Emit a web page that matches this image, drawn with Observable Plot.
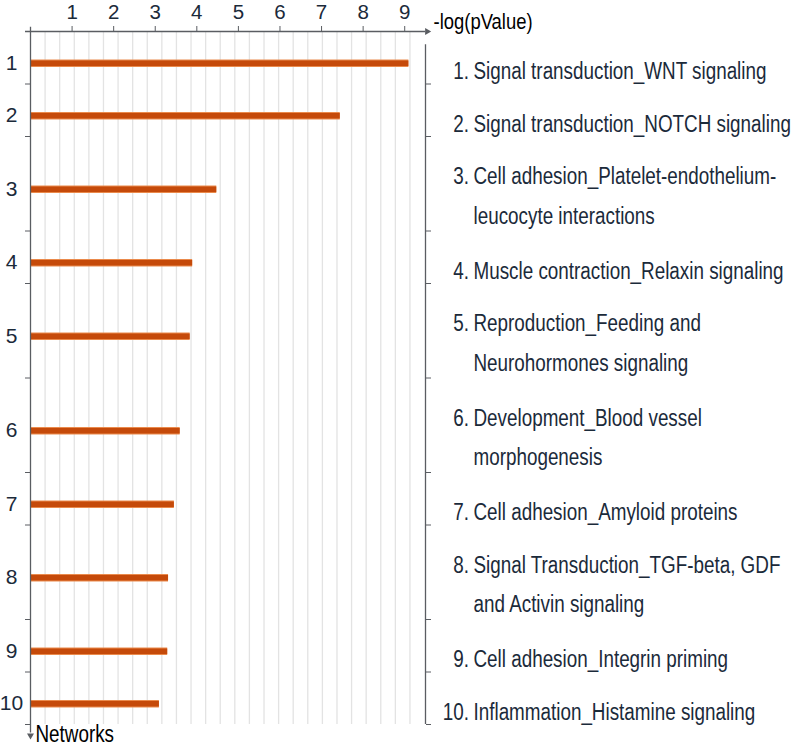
<!DOCTYPE html>
<html>
<head>
<meta charset="utf-8">
<script src="https://cdn.jsdelivr.net/npm/d3@7"></script>
<script src="https://cdn.jsdelivr.net/npm/@observablehq/plot@0.6"></script>
<style>
  html, body { margin: 0; padding: 0; background: #ffffff; }
</style>
</head>
<body>
<div id="chart"></div>
<script>
// ---- data ----
const networks = [1, 2, 3, 4, 5, 6, 7, 8, 9, 10];
const values = [9.1, 7.45, 4.48, 3.9, 3.84, 3.6, 3.46, 3.32, 3.3, 3.1];
const labels = [
  "Signal transduction_WNT signaling",
  "Signal transduction_NOTCH signaling",
  "Cell adhesion_Platelet-endothelium-\nleucocyte interactions",
  "Muscle contraction_Relaxin signaling",
  "Reproduction_Feeding and\nNeurohormones signaling",
  "Development_Blood vessel\nmorphogenesis",
  "Cell adhesion_Amyloid proteins",
  "Signal Transduction_TGF-beta, GDF\nand Activin signaling",
  "Cell adhesion_Integrin priming",
  "Inflammation_Histamine signaling"
];
const xTicks = [1, 2, 3, 4, 5, 6, 7, 8, 9];
const xTitle = "-log(pValue)";
const yTitle = "Networks";

// ---- layout helpers ----
const FONT = '"Liberation Sans", Arial, Helvetica, sans-serif';
const NAVY = "#1b2a3a";
const AXIS = "#5a5d62";
const GRID = "#e3e3e3";
const BAR = "#c54a0a";
const BAR_EDGE = "#ea8a4c";
const CONDENSE = 0.82;
const gridValues = d3.range(1, 27).map(i => i * 0.351);

let cum = 0;
const rows = networks.map((n, i) => {
  const nLines = labels[i].split("\n").length;
  const size = nLines > 1 ? 1.8 : 1;
  const r = {network: n, num: n + ".", value: values[i], label: labels[i], start: cum, mid: cum + size / 2, end: cum + size};
  cum += size;
  return r;
});
const total = cum;
const boundaries = rows.map(r => r.end);

const fsLabel = 23;
const lh = 39.7 / fsLabel;
const labelDy = 47.6 - 0.71 * lh * fsLabel;

const plot = Plot.plot({
  width: 797,
  height: 745,
  marginLeft: 30,
  marginRight: 372,
  marginTop: 31,
  marginBottom: 21,
  style: {fontFamily: FONT, background: "#ffffff", color: NAVY},
  x: {domain: [0, 9.5], label: null},
  y: {domain: [0, total], reverse: true, label: null},
  marks: [
    // grid
    Plot.ruleX(gridValues, {x: d => d, y1: 0, y2: total, stroke: GRID, strokeWidth: 1.3}),
    // bars
    Plot.ruleY(rows, {y: "mid", x1: 0, x2: "value", stroke: BAR_EDGE, strokeWidth: 7.5, dy: 5.5}),
    Plot.ruleY(rows, {y: "mid", x1: 0, x2: "value", stroke: BAR, strokeWidth: 5.6, dy: 5.5}),
    // axis lines
    Plot.ruleY([0], {x1: -0.12, x2: 9.5, stroke: AXIS, strokeWidth: 1.3}),
    Plot.ruleX([0], {y1: -0.08, y2: 13.36, stroke: AXIS, strokeWidth: 1.3}),
    Plot.ruleX([9.5], {y1: 0.25, y2: total, stroke: AXIS, strokeWidth: 1.3}),
    Plot.dot([{x: 9.54, y: 0}], {x: "x", y: "y", symbol: "triangle", r: 2.6, rotate: 90, fill: AXIS, stroke: null}),
    Plot.dot([{x: 0, y: 13.41}], {x: "x", y: "y", symbol: "triangle", r: 2.6, rotate: 180, fill: AXIS, stroke: null}),
    // top axis ticks & labels
    Plot.axisX({anchor: "top", ticks: xTicks, tickSize: 6, tickPadding: 7, fontSize: 20.5, stroke: AXIS, fill: NAVY, label: null, tickFormat: d => String(d)}),
    // boundary ticks left & right
    Plot.axisY({anchor: "left", ticks: boundaries, tickSize: 5, tickFormat: () => "", stroke: AXIS, label: null}),
    Plot.axisY({anchor: "right", ticks: boundaries, tickSize: 5, tickFormat: () => "", stroke: AXIS, label: null}),
    // left network numbers
    Plot.text(rows, {x: 0, y: "mid", text: d => String(d.network), dx: -19, dy: 5.5, textAnchor: "middle", fontSize: 21, fill: NAVY}),
    // right labels
    Plot.text(rows, {x: 9.5, y: "start", text: "num", dx: 43.5, dy: labelDy, textAnchor: "end", lineAnchor: "top", lineHeight: lh, fontSize: fsLabel, fill: NAVY}),
    Plot.text(rows, {x: 9.5, y: "start", text: "label", dx: 48, dy: labelDy, textAnchor: "start", lineAnchor: "top", lineHeight: lh, fontSize: fsLabel, fill: NAVY}),
    // axis titles
    Plot.text([{x: 9.5, y: 0, t: xTitle}], {x: "x", y: "y", text: "t", dx: 8, dy: -3, textAnchor: "start", lineAnchor: "bottom", fontSize: 22.5, fill: "#000000"}),
    Plot.text([{x: 0, y: total, t: yTitle}], {x: "x", y: "y", text: "t", dx: 5, dy: 17, textAnchor: "start", lineAnchor: "bottom", fontSize: 23, fill: "#000000"})
  ]
});

// condense the label-style texts (all text marks except the left network numbers)
const textGroups = plot.querySelectorAll('g[aria-label="text"]');
textGroups.forEach((g, gi) => {
  if (gi === 0) return;
  g.querySelectorAll("text").forEach(t => {
    const tr = t.getAttribute("transform") || "";
    t.setAttribute("transform", tr + ` scale(${CONDENSE},1)`);
  });
});

document.getElementById("chart").appendChild(plot);
</script>
</body>
</html>
